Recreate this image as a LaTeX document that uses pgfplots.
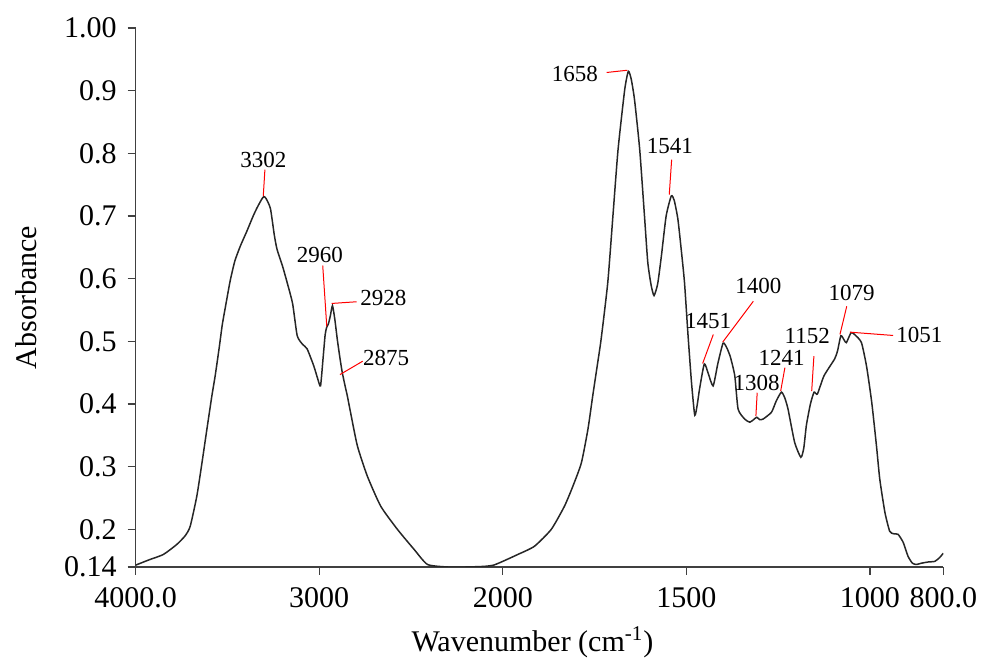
\documentclass[border=0pt]{standalone}
\usepackage{fontspec}
\setmainfont{Liberation Serif}
\usepackage{pgfplots}
\usepackage{pgfplotstable}
\pgfplotsset{compat=1.18}

\pgfplotstableread{
w A
4000 0.143
3922 0.152
3849 0.160
3776 0.176
3730 0.190
3703 0.205
3667 0.253
3639 0.306
3612 0.360
3585 0.413
3567 0.445
3545 0.490
3528 0.527
3505 0.565
3485 0.597
3460 0.628
3430 0.652
3394 0.676
3360 0.700
3339 0.713
3315 0.726
3302 0.731
3290 0.728
3266 0.712
3245 0.670
3230 0.647
3200 0.620
3175 0.594
3145 0.560
3120 0.509
3090 0.495
3066 0.488
3030 0.461
3008 0.440
2993 0.429
2980 0.470
2968 0.510
2960 0.522
2950 0.528
2940 0.540
2928 0.557
2915 0.535
2902 0.504
2888 0.475
2875 0.451
2860 0.430
2847 0.413
2829 0.386
2792 0.333
2738 0.285
2665 0.237
2574 0.200
2483 0.168
2410 0.144
2300 0.140
2200 0.140
2100 0.141
2050 0.143
2000 0.149
1959 0.160
1914 0.173
1868 0.200
1832 0.237
1809 0.269
1786 0.306
1768 0.360
1755 0.413
1743 0.460
1732 0.504
1714 0.594
1700 0.700
1686 0.806
1668 0.901
1658 0.931
1650 0.918
1641 0.885
1627 0.806
1614 0.700
1605 0.626
1596 0.590
1588 0.573
1578 0.592
1568 0.636
1555 0.700
1541 0.732
1533 0.725
1523 0.695
1514 0.647
1505 0.594
1496 0.515
1486 0.435
1477 0.382
1470 0.400
1464 0.424
1451 0.464
1440 0.448
1427 0.429
1414 0.465
1400 0.497
1390 0.490
1380 0.475
1368 0.445
1359 0.392
1341 0.376
1327 0.371
1315 0.376
1308 0.379
1300 0.375
1291 0.376
1268 0.387
1255 0.405
1241 0.419
1232 0.410
1223 0.392
1205 0.339
1188 0.315
1180 0.330
1173 0.366
1162 0.400
1152 0.419
1143 0.416
1125 0.445
1096 0.472
1088 0.485
1079 0.509
1070 0.502
1064 0.498
1051 0.514
1040 0.510
1023 0.498
1009 0.460
995 0.403
982 0.333
973 0.280
959 0.227
946 0.197
935 0.193
923 0.192
909 0.179
896 0.157
884 0.146
873 0.144
860 0.146
841 0.148
823 0.149
810 0.155
800 0.162
}\spectrum

\begin{document}
\begin{tikzpicture}
\useasboundingbox (-67.85pt,-47.5pt) rectangle (422.65pt,283.5pt);
\begin{axis}[
  scale only axis,
  width=403.8pt, height=269.5pt,
  xmin=0, xmax=4400,
  ymin=0.14, ymax=1.0,
  axis x line*=bottom, axis y line*=left,
  axis line style={-, black!75, line width=0.7pt},
  tick style={black!75, line width=0.7pt},
  tick align=outside,
  major tick length=4pt,
  xtick={0,1000,2000,3000,4000,4400},
  xticklabels={4000.0,3000,2000,1500,1000,800.0},
  ytick={0.14,0.2,0.3,0.4,0.5,0.6,0.7,0.8,0.9,1.0},
  yticklabels={0.14,0.2,0.3,0.4,0.5,0.6,0.7,0.8,0.9,1.00},
  ticklabel style={font=\fontsize{15}{17}\selectfont},
  xticklabel style={yshift=-2.5pt},
  yticklabel style={xshift=-2pt},
  xlabel={Wavenumber (cm\textsuperscript{-1})},
  ylabel={Absorbance},
  label style={font=\fontsize{15}{17}\selectfont},
  xlabel style={at={(axis description cs:0.4913,-0.14)}, anchor=center},
  ylabel style={at={(axis description cs:-0.135,0.5)}, anchor=center},
  clip=true,
]
\addplot[black!85, line width=0.75pt, smooth, tension=0.35] table[x expr={\thisrow{w}>=2000 ? 4000-\thisrow{w} : 6000-2*\thisrow{w}}, y=A] {\spectrum};

% annotations
\begin{scope}[red, line width=0.5pt]
\draw (axis cs:704,0.774) -- (axis cs:695,0.7316);
\draw (axis cs:1019,0.621) -- (axis cs:1041,0.524);
\draw (axis cs:1068,0.5605) -- (axis cs:1204,0.5632);
\draw (axis cs:1113,0.447) -- (axis cs:1237,0.4684);
\draw (axis cs:2566,0.929) -- (axis cs:2678,0.9326);
\draw (axis cs:2920,0.790) -- (axis cs:2907,0.734);
\draw (axis cs:3147,0.511) -- (axis cs:3089,0.4648);
\draw (axis cs:3365,0.564) -- (axis cs:3198,0.4987);
\draw (axis cs:3386,0.418) -- (axis cs:3379,0.3807);
\draw (axis cs:3537,0.458) -- (axis cs:3514,0.4206);
\draw (axis cs:3695,0.4764) -- (axis cs:3683,0.4206);
\draw (axis cs:3874,0.556) -- (axis cs:3837,0.511);
\draw (axis cs:4127,0.5094) -- (axis cs:3891,0.5147);
\end{scope}
\begin{scope}[every node/.style={font=\fontsize{11.5}{13}\selectfont, inner sep=0pt, text=black}]
\node at (axis cs:695,0.790) {3302};
\node at (axis cs:1004,0.6386) {2960};
\node[anchor=west] at (axis cs:1222,0.5695) {2928};
\node[anchor=west] at (axis cs:1237,0.4738) {2875};
\node[anchor=east] at (axis cs:2520,0.9273) {1658};
\node at (axis cs:2911,0.8113) {1541};
\node at (axis cs:3119,0.532) {1451};
\node at (axis cs:3392,0.588) {1400};
\node at (axis cs:3383,0.434) {1308};
\node at (axis cs:3519,0.4738) {1241};
\node at (axis cs:3659,0.5083) {1152};
\node at (axis cs:3901,0.5775) {1079};
\node[anchor=west] at (axis cs:4142,0.511) {1051};
\end{scope}
\end{axis}
\end{tikzpicture}
\end{document}
